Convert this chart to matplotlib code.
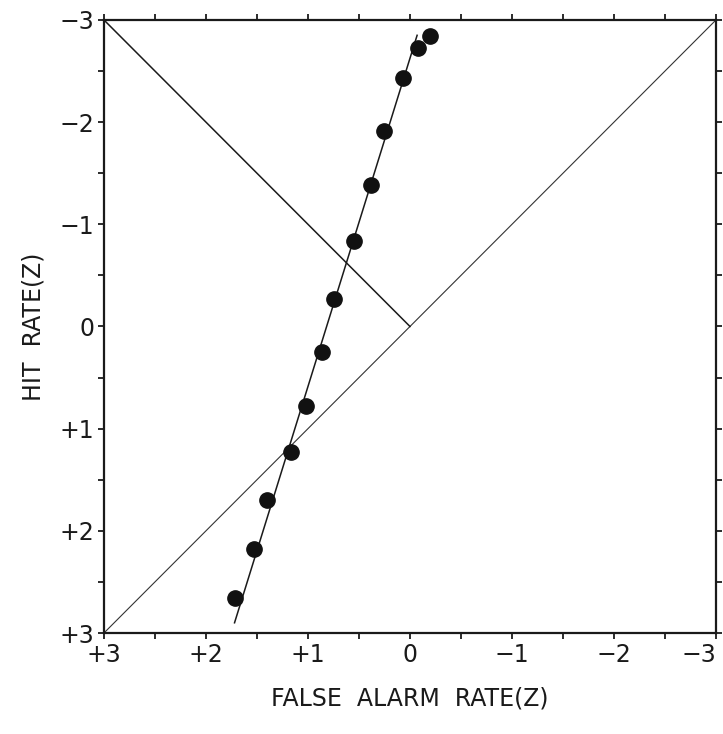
import numpy as np
import matplotlib.pyplot as plt

# z-scores (false alarm rate, hit rate)
fa_z = [-0.20, -0.08, 0.07, 0.25, 0.38, 0.55, 0.74, 0.86, 1.02, 1.17, 1.40, 1.53, 1.72]
hit_z = [-2.84, -2.73, -2.43, -1.91, -1.38, -0.84, -0.27, 0.25, 0.78, 1.23, 1.70, 2.18, 2.66]

# fitted line end points
fit_x = [-0.07, 1.72]
fit_y = [-2.85, 2.90]

# chance diagonal and negative diagonal to origin
chance_x = [3, -3]
chance_y = [3, -3]
neg_x = [3, 0]
neg_y = [-3, 0]

tick_vals = [3, 2, 1, 0, -1, -2, -3]
x_labels = ['+3', '+2', '+1', '0', '\u22121', '\u22122', '\u22123']
y_labels = ['+3', '+2', '+1', '0', '\u22121', '\u22122', '\u22123']

fig = plt.figure(figsize=(7.23, 7.34), dpi=100)
ax = fig.add_axes([0.1438, 0.1376, 0.8465, 0.8352])

ax.plot(chance_x, chance_y, color='#333333', linewidth=0.8)
ax.plot(neg_x, neg_y, color='#1a1a1a', linewidth=1.1)
ax.plot(fit_x, fit_y, color='#1a1a1a', linewidth=1.1)
ax.plot(fa_z, hit_z, 'o', color='#111111', markersize=11)

ax.set_xlim(3, -3)
ax.set_ylim(3, -3)

ax.set_xticks(tick_vals)
ax.set_xticklabels(x_labels, fontsize=17)
ax.set_yticks(tick_vals)
ax.set_yticklabels(y_labels, fontsize=17)
ax.set_xticks(np.arange(-3, 3.01, 0.5), minor=True)
ax.set_yticks(np.arange(-3, 3.01, 0.5), minor=True)

ax.tick_params(which='both', direction='out', length=4, width=1.3,
               top=True, right=True, color='#1a1a1a')
ax.tick_params(which='major', pad=3, labelcolor='#1a1a1a')

# last x label sits against the right edge, as in the original
ax.get_xticklabels()[-1].set_horizontalalignment('right')

for s in ax.spines.values():
    s.set_linewidth(1.6)
    s.set_color('#1a1a1a')

ax.set_xlabel('FALSE  ALARM  RATE(Z)', fontsize=17, labelpad=14, color='#1a1a1a')
ax.set_ylabel('HIT  RATE(Z)', fontsize=17, labelpad=10, color='#1a1a1a')

plt.savefig('out.png', dpi=100)
